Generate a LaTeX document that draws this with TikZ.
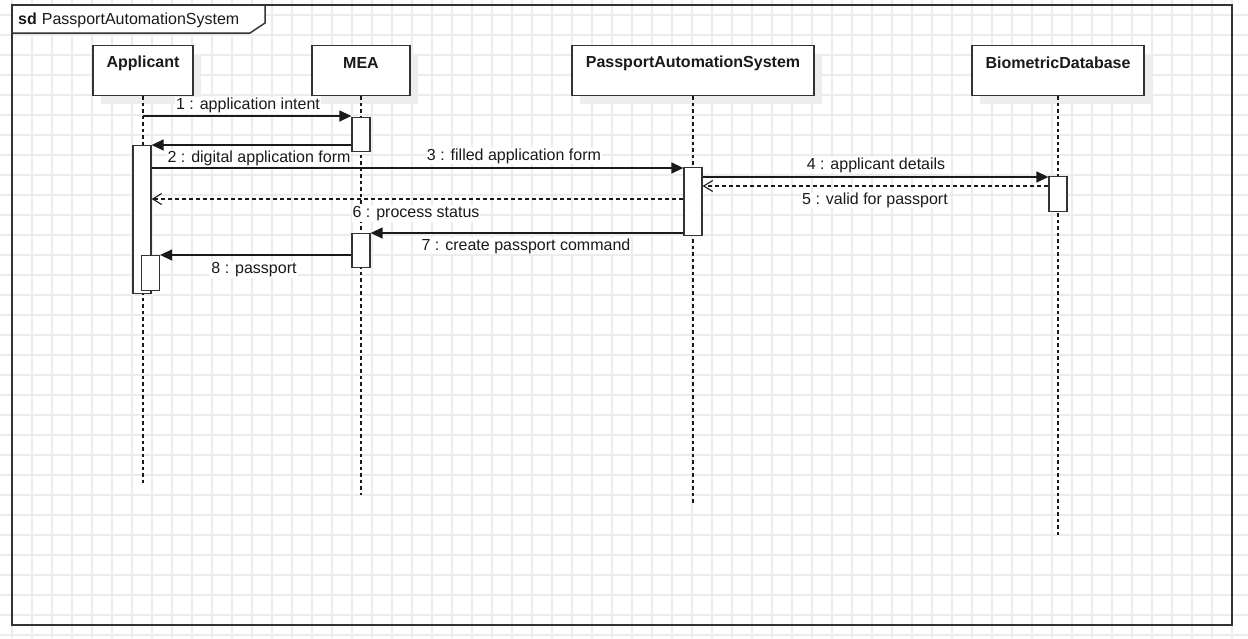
\documentclass[tikz,border=0pt]{standalone}
\usepackage{fontspec}
\setmainfont{Liberation Sans}
\usetikzlibrary{arrows.meta,shadows}
\definecolor{gridc}{HTML}{ECECEC}
\definecolor{linec}{HTML}{333333}
\definecolor{textc}{HTML}{1A1A1A}
\begin{document}
\begin{tikzpicture}[x=1pt,y=-1pt,
  font=\fontsize{16}{19}\selectfont, text=textc,
  gridline/.style={gridc, line width=1.1pt},
  frameline/.style={draw=linec, line width=1.5pt},
  headbox/.style={draw=linec, fill=white, line width=1.3pt, minimum width=#1, minimum height=50pt, anchor=north, inner sep=0pt,
    drop shadow={shadow xshift=8pt, shadow yshift=-8pt, fill=black!7, opacity=1}},
  headtext/.style={font=\fontsize{16}{19}\selectfont\bfseries, inner sep=0pt},
  lifeline/.style={draw=textc, line width=1.1pt, dash pattern=on 3.5pt off 3pt},
  act/.style={draw=linec, fill=white, line width=1.3pt, minimum width=18pt, minimum height=#1, anchor=north, inner sep=0pt},
  msg/.style={draw=textc, line width=1.4pt, -{Triangle[length=12pt,width=11pt]}},
  ret/.style={draw=textc, line width=1.1pt, dash pattern=on 4pt off 3pt, -{Straight Barb[length=9pt,width=11pt,line width=1.1pt]}},
  mlabel/.style={fill=white, inner sep=1pt}
]
% background and bounding box
\fill[white] (0,0) rectangle (1248,638);
\useasboundingbox (0,0) rectangle (1248,638);
% grid
\foreach \x in {12,32,...,1248} \draw[gridline] (\x,0) -- (\x,638);
\foreach \y in {15,35,...,638} \draw[gridline] (0,\y) -- (1248,\y);

% frame
\draw[frameline] (12,5) rectangle (1232,625);
\draw[frameline, fill=white] (12,5) -- (265,5) -- (265,23) -- (250,33) -- (12,33) -- cycle;
\node[anchor=west, inner sep=0pt] (title) at (18,20) {{\bfseries sd}\hspace{5pt}PassportAutomationSystem};

% lifeline heads
\node[headbox=100pt] (app) at (143,45) {};
\node[headbox=98pt]  (mea) at (361,45) {};
\node[headbox=242pt] (pas) at (693,45) {};
\node[headbox=172pt] (bd)  at (1058,45) {};
\node[headtext] (appT) at (143,63) {Applicant};
\node[headtext] (meaT) at (361,63) {MEA};
\node[headtext] (pasT) at (693,63) {PassportAutomationSystem};
\node[headtext] (bdT)  at (1058,63) {BiometricDatabase};

% lifeline ends
\coordinate (appE) at (143,483);
\coordinate (meaE) at (361,495);
\coordinate (pasE) at (693,505);
\coordinate (bdE)  at (1058,535);
\draw[lifeline] (app.south) -- (appE);
\draw[lifeline] (mea.south) -- (meaE);
\draw[lifeline] (pas.south) -- (pasE);
\draw[lifeline] (bd.south) -- (bdE);

% activations
\node[act=34pt]  (aMEA1) at (361,117) {};
\node[act=148pt] (aApp)  at (142,145) {};
\node[act=35pt]  (aApp2) at (150.5,255) {};
\node[act=34pt]  (aMEA2) at (361,233) {};
\node[act=68pt]  (aPAS)  at (693,167) {};
\node[act=35pt]  (aBD)   at (1058,176) {};

% message levels
\coordinate (y1) at (0,116);
\coordinate (y2) at (0,145);
\coordinate (y3) at (0,168);
\coordinate (y4) at (0,177);
\coordinate (y5) at (0,186);
\coordinate (y6) at (0,199);
\coordinate (y7) at (0,233);
\coordinate (y8) at (0,255);

% messages
\draw[msg] (app |- y1) -- (aMEA1.west |- y1);
\draw[msg] (aMEA1.west |- y2) -- (aApp.east |- y2);
\draw[msg] (aApp.east |- y3) -- (aPAS.west |- y3);
\draw[msg] (aPAS.east |- y4) -- (aBD.west |- y4);
\draw[ret] (aBD.west |- y5) -- (aPAS.east |- y5);
\draw[ret] (aPAS.west |- y6) -- (aApp.east |- y6);
\draw[msg] (aPAS.west |- y7) -- (aMEA2.east |- y7);
\draw[msg] (aMEA2.west |- y8) -- (aApp2.east |- y8);

% labels
\node[mlabel] (l1) at (248,105) {1 : application intent};
\node[mlabel] (l2) at (259,158) {2 : digital application form};
\node[mlabel] (l3) at (514,156) {3 : filled application form};
\node[mlabel] (l4) at (876,165) {4 : applicant details};
\node[mlabel] (l5) at (875,200) {5 : valid for passport};
\node[mlabel] (l6) at (416,214) {6 : process status};
\node[mlabel] (l7) at (526,246) {7 : create passport command};
\node[mlabel] (l8) at (254,270) {8 : passport};
\end{tikzpicture}
\end{document}
